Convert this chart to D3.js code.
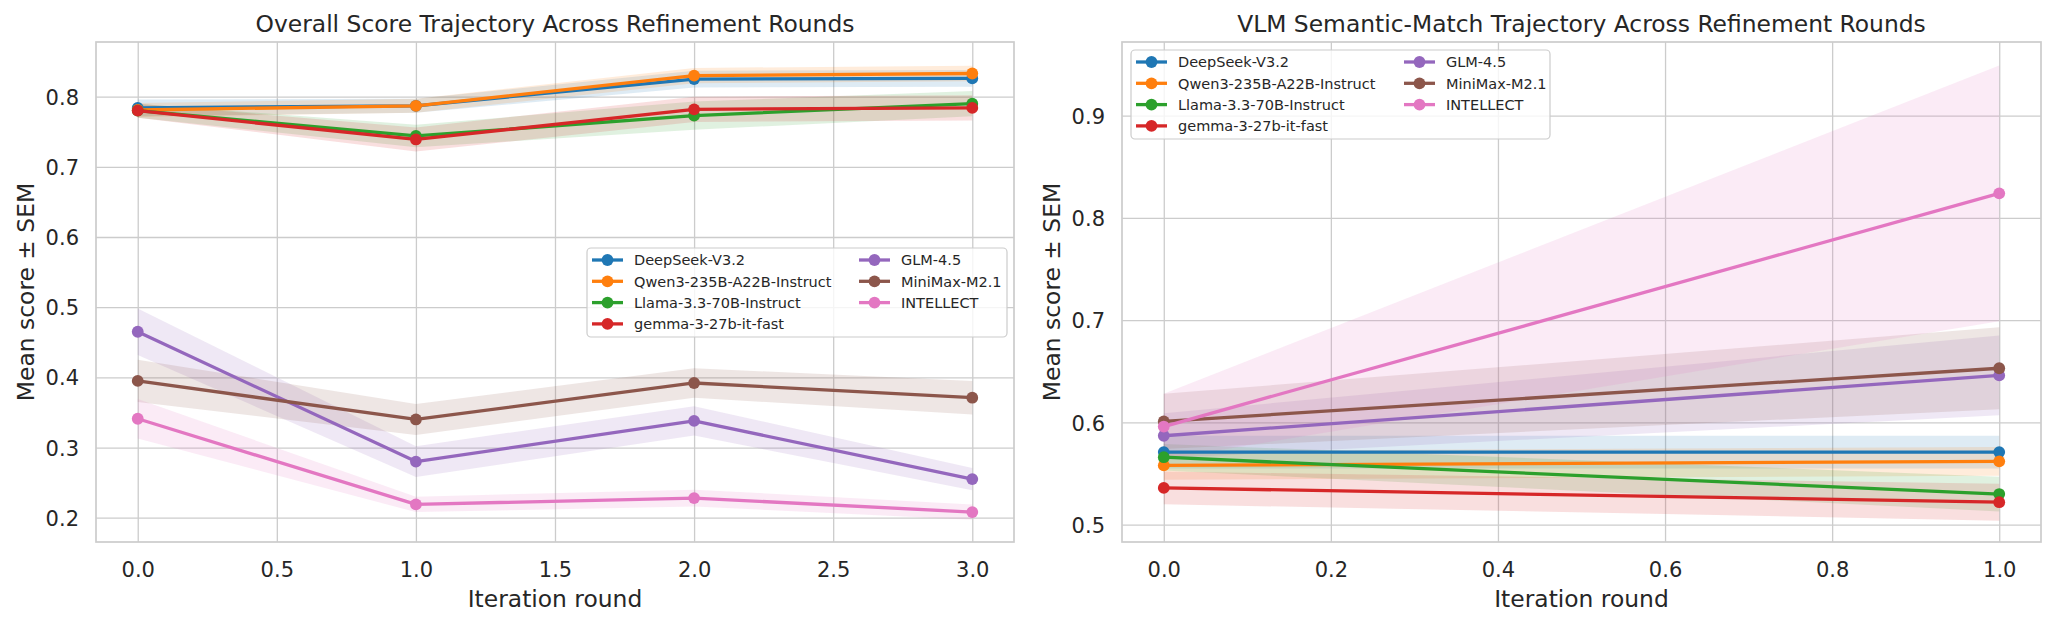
<!DOCTYPE html>
<html>
<head>
<meta charset="utf-8">
<script src="https://cdn.jsdelivr.net/npm/d3@7"></script>
<style>
html,body{margin:0;padding:0;background:#fff;}
svg{display:block;font-family:"DejaVu Sans",sans-serif;}
</style>
</head>
<body>
<svg id="chart" width="2054" height="624"></svg>
<script>
// ---- data ----
const models = ["DeepSeek-V3.2","Qwen3-235B-A22B-Instruct","Llama-3.3-70B-Instruct","gemma-3-27b-it-fast","GLM-4.5","MiniMax-M2.1","INTELLECT"];
const colors = ["#1f77b4","#ff7f0e","#2ca02c","#d62728","#9467bd","#8c564b","#e377c2"];

const overallRounds = [0,1,2,3];
const overallMean = [
  [0.784,0.787,0.825,0.826],
  [0.781,0.787,0.830,0.833],
  [0.780,0.744,0.773,0.790],
  [0.780,0.739,0.782,0.784],
  [0.465,0.280,0.338,0.255],
  [0.395,0.340,0.392,0.371],
  [0.341,0.219,0.228,0.208]
];
const overallSem = [
  [0.012,0.010,0.012,0.012],
  [0.010,0.010,0.011,0.011],
  [0.010,0.016,0.020,0.018],
  [0.010,0.017,0.018,0.018],
  [0.033,0.022,0.021,0.016],
  [0.030,0.022,0.021,0.024],
  [0.028,0.011,0.012,0.011]
];

const vlmRounds = [0,1];
const vlmMean = [
  [0.571,0.571],
  [0.558,0.562],
  [0.566,0.530],
  [0.536,0.522],
  [0.587,0.646],
  [0.601,0.653],
  [0.596,0.824]
];
const vlmSem = [
  [0.016,0.016],
  [0.014,0.014],
  [0.013,0.017],
  [0.016,0.018],
  [0.022,0.039],
  [0.027,0.040],
  [0.032,0.125]
];

const overallXTicks = [0,0.5,1,1.5,2,2.5,3];
const overallYTicks = [0.2,0.3,0.4,0.5,0.6,0.7,0.8];
const vlmXTicks = [0,0.2,0.4,0.6,0.8,1.0];
const vlmYTicks = [0.5,0.6,0.7,0.8,0.9];

// ---- drawing ----
const svg = d3.select("#chart");
const gridColor = "#cccccc";
const textColor = "#262626";

function panel(opts){
  const {left,right,top,bottom,xDomain,yDomain,xTicks,yTicks,rounds,means,sems,title,legendPos} = opts;
  const x = d3.scaleLinear().domain(xDomain).range([left,right]);
  const y = d3.scaleLinear().domain(yDomain).range([bottom,top]);
  const g = svg.append("g");

  const gx = g.append("g").attr("transform",`translate(0,${bottom})`)
    .call(d3.axisBottom(x).tickValues(xTicks).tickFormat(d3.format(".1f")).tickSize(-(bottom-top)).tickPadding(0));
  const gy = g.append("g").attr("transform",`translate(${left},0)`)
    .call(d3.axisLeft(y).tickValues(yTicks).tickFormat(d3.format(".1f")).tickSize(-(right-left)).tickPadding(17));
  [gx,gy].forEach(a=>{
    a.select(".domain").remove();
    a.selectAll(".tick line").attr("stroke",gridColor).attr("stroke-width",1.3);
    a.selectAll(".tick text").attr("fill",textColor).attr("font-size",21).attr("font-family","DejaVu Sans");
  });
  gx.selectAll(".tick text").attr("y",576.5-bottom).attr("dy",0);
  gy.selectAll(".tick text").attr("dy","0.36em");

  g.append("rect").attr("x",left).attr("y",top).attr("width",right-left).attr("height",bottom-top)
    .attr("fill","none").attr("stroke",gridColor).attr("stroke-width",1.7);

  const clipId = "clip"+Math.round(left);
  svg.append("clipPath").attr("id",clipId).append("rect")
    .attr("x",left).attr("y",top).attr("width",right-left).attr("height",bottom-top);
  const plot = g.append("g").attr("clip-path",`url(#${clipId})`);

  const area = d3.area().x(d=>x(d.r)).y0(d=>y(d.m-d.s)).y1(d=>y(d.m+d.s));
  const line = d3.line().x(d=>x(d.r)).y(d=>y(d.m));
  models.forEach((name,i)=>{
    const pts = rounds.map((r,j)=>({r:r,m:means[i][j],s:sems[i][j]}));
    plot.append("path").datum(pts).attr("d",area).attr("fill",colors[i]).attr("fill-opacity",0.15).attr("stroke","none");
  });
  models.forEach((name,i)=>{
    const pts = rounds.map((r,j)=>({r:r,m:means[i][j],s:sems[i][j]}));
    plot.append("path").datum(pts).attr("d",line).attr("fill","none").attr("stroke",colors[i]).attr("stroke-width",3.3)
      .attr("stroke-linejoin","round").attr("stroke-linecap","butt");
    plot.selectAll(null).data(pts).enter().append("circle")
      .attr("cx",d=>x(d.r)).attr("cy",d=>y(d.m)).attr("r",5.9).attr("fill",colors[i]);
  });

  g.append("text").attr("x",(left+right)/2).attr("y",32.3).attr("text-anchor","middle")
    .attr("font-size",23.4).attr("fill",textColor).text(title);
  g.append("text").attr("x",(left+right)/2).attr("y",606.5).attr("text-anchor","middle")
    .attr("font-size",23.4).attr("fill",textColor).text("Iteration round");
  g.append("text").attr("transform",`translate(${left-62.5},${(top+bottom)/2}) rotate(-90)`)
    .attr("text-anchor","middle").attr("font-size",23.4).attr("fill",textColor).text("Mean score ± SEM");

  const L = legendPos;
  const lg = g.append("g");
  lg.append("rect").attr("x",L.x).attr("y",L.y).attr("width",L.w).attr("height",L.h).attr("rx",4)
    .attr("fill","#ffffff").attr("fill-opacity",0.8).attr("stroke",gridColor).attr("stroke-width",1.2);
  models.forEach((name,i)=>{
    const col = i<4?0:1, row = i<4?i:i-4;
    const hx = L.x + 5 + col*L.colW;
    const cy = L.y + 12 + row*21.3;
    lg.append("line").attr("x1",hx).attr("x2",hx+31).attr("y1",cy).attr("y2",cy)
      .attr("stroke",colors[i]).attr("stroke-width",3.3);
    lg.append("circle").attr("cx",hx+15.5).attr("cy",cy).attr("r",5.9).attr("fill",colors[i]);
    lg.append("text").attr("x",hx+42).attr("y",cy).attr("dy","0.36em").attr("font-size",14.5)
      .attr("fill",textColor).text(name);
  });
}

panel({left:96,right:1014,top:42,bottom:542,xDomain:[-0.15,3.15],yDomain:[0.1654,0.8779],
  xTicks:overallXTicks,yTicks:overallYTicks,rounds:overallRounds,means:overallMean,sems:overallSem,
  title:"Overall Score Trajectory Across Refinement Rounds",
  legendPos:{x:587,y:248,w:420,h:89,colW:267}});

panel({left:1122,right:2041,top:42,bottom:542,xDomain:[-0.05,1.05],yDomain:[0.4831,0.9720],
  xTicks:vlmXTicks,yTicks:vlmYTicks,rounds:vlmRounds,means:vlmMean,sems:vlmSem,
  title:"VLM Semantic-Match Trajectory Across Refinement Rounds",
  legendPos:{x:1131,y:50,w:419,h:89,colW:268}});
</script>
</body>
</html>
